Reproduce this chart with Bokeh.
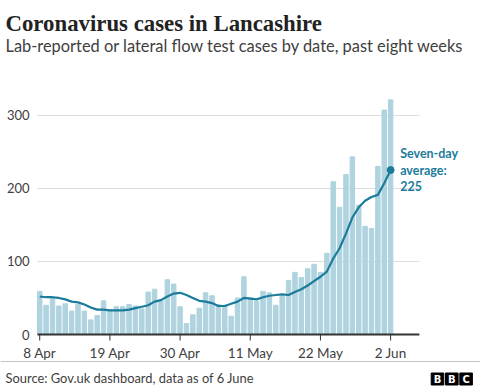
from bokeh.plotting import figure
from bokeh.models import Label, FixedTicker, Range1d, ColumnDataSource, Span
from bokeh.core.properties import value
from bokeh.embed import file_html
from bokeh.resources import INLINE

# ---- data ----
day_index = list(range(56))  # 8 Apr .. 2 Jun
tick_days = [0, 11, 22, 33, 44, 55]
tick_labels = ["8 Apr", "19 Apr", "30 Apr", "11 May", "22 May", "2 Jun"]
cases = [59, 40, 51, 39, 42, 32, 41, 32, 20, 26, 46,
         34, 38, 38, 41, 39, 35, 58, 62, 46, 75, 69,
         38, 15, 27, 36, 57, 53, 41, 40, 25, 50, 79,
         50, 45, 59, 57, 40, 52, 74, 85, 78, 90, 96,
         85, 111, 209, 174, 219, 243, 177, 148, 145, 230, 307,
         321]
avg7 = [52, 51, 51, 50, 48, 45, 44, 41, 37, 34, 34,
        33, 33, 33, 34, 36, 38, 40, 45, 47, 52, 56,
        57, 54, 50, 46, 45, 43, 39, 39, 42, 45, 50,
        49, 48, 51, 53, 54, 55, 54, 58, 62, 67, 73,
        79, 86, 104, 118, 138, 160, 174, 183, 188, 191, 207,
        225]
y_ticks = [0, 100, 200, 300]
y_tick_labels = ["0", "100", "200", "300"]
title_text = "Coronavirus cases in Lancashire"
subtitle_text = "Lab-reported or lateral flow test cases by date, past eight weeks"
source_text = "Source: Gov.uk dashboard, data as of  6 June"
logo_letters = ["B", "B", "C"]

BAR = "#afd3df"
LINE = "#1b7b9b"
TXT = "#404040"
AXIS = "#333333"
SANS = "Lato"

W, H = 480, 387
PX_PER_DAY = 6.38
PX_PER_UNIT = 0.731
GRID_LEFT_PX = 37      # canvas x where the plotting area starts
BASE_PX = 334          # canvas y (from top) of the zero line
X0 = -0.35             # data x where grid / axis begin
X_DATA_END = 59.5      # data x where grid / axis end

XS = X0 - GRID_LEFT_PX / PX_PER_DAY
p = figure(width=W, height=H, output_backend="svg", toolbar_location=None,
           x_range=Range1d(XS, XS + W / PX_PER_DAY),
           y_range=Range1d(-(H - BASE_PX) / PX_PER_UNIT, BASE_PX / PX_PER_UNIT),
           x_axis_location=None, y_axis_location=None,
           min_border=0, outline_line_color=None)


def dx(fx):
    return XS + fx / PX_PER_DAY


def dy(fy):
    return (BASE_PX - fy) / PX_PER_UNIT


# grid (horizontal lines only, limited to the data area)
p.xgrid.visible = False
yg = p.ygrid[0]
yg.ticker = FixedTicker(ticks=y_ticks)
yg.grid_line_color = "#dddddd"
yg.cross_bounds = (X0, X_DATA_END)

src = ColumnDataSource(dict(x=day_index, cases=cases, avg=avg7))
p.vbar(x="x", top="cases", width=0.7, source=src, color=BAR)
p.line(x="x", y="avg", source=src, line_color=LINE, line_width=2.2)
p.scatter(x=[day_index[-1]], y=[avg7[-1]], size=7, color=LINE)

# x axis: baseline, ticks and labels
p.segment(x0=[X0], x1=[X_DATA_END], y0=[0], y1=[0], line_color=AXIS, line_width=2)
p.segment(x0=tick_days, x1=tick_days, y0=[0] * len(tick_days),
          y1=[dy(BASE_PX + 6)] * len(tick_days), line_color=AXIS, line_width=1)
p.text(x=tick_days, y=[dy(BASE_PX + 18)] * len(tick_days), text=tick_labels,
       text_font=value(SANS), text_font_size="13.5px", text_color=TXT,
       text_align="center", text_baseline="middle")

# y axis labels
p.text(x=[dx(GRID_LEFT_PX - 8)] * len(y_ticks), y=y_ticks, text=y_tick_labels,
       text_font=value(SANS), text_font_size="13px", text_color=TXT,
       text_align="right", text_baseline="middle")

# end-of-line annotation
p.add_layout(Label(x=day_index[-1], y=avg7[-1], x_offset=9.5, y_offset=0,
                   text="Seven-day\naverage:\n" + str(avg7[-1]),
                   text_font=SANS, text_font_style="bold", text_font_size="12.5px",
                   text_color=LINE, text_baseline="middle", text_align="left",
                   text_line_height=1.1))

# title and subtitle
p.add_layout(Label(x=dx(5), y=dy(23), text=title_text,
                   text_font="Liberation Serif", text_font_style="bold",
                   text_font_size="22.8px", text_color="#222222",
                   text_baseline="alphabetic", text_align="left"))
p.add_layout(Label(x=dx(5), y=dy(44.5), text=subtitle_text,
                   text_font=SANS, text_font_size="16.4px", text_color=TXT,
                   text_baseline="alphabetic", text_align="left"))

# footer
p.add_layout(Span(location=dy(361), dimension="width",
                  line_color="#c4c4c4", line_width=1))
p.add_layout(Label(x=dx(5), y=dy(377), text=source_text,
                   text_font=SANS, text_font_size="12.9px", text_color=TXT,
                   text_baseline="middle", text_align="left"))
logo_px = [437, 451.3, 465.6]
logo_x = [dx(v) for v in logo_px]
logo_y = [dy(378.5)] * len(logo_px)
p.rect(x=logo_x, y=logo_y, width=12.6, height=12, width_units="screen",
       height_units="screen", color="black")
p.text(x=logo_x, y=logo_y, text=logo_letters, text_font=value("DejaVu Sans"),
       text_font_style="bold", text_font_size="10px", text_color="white",
       text_align="center", text_baseline="middle")

open("out.html", "w").write(file_html(p, INLINE))
